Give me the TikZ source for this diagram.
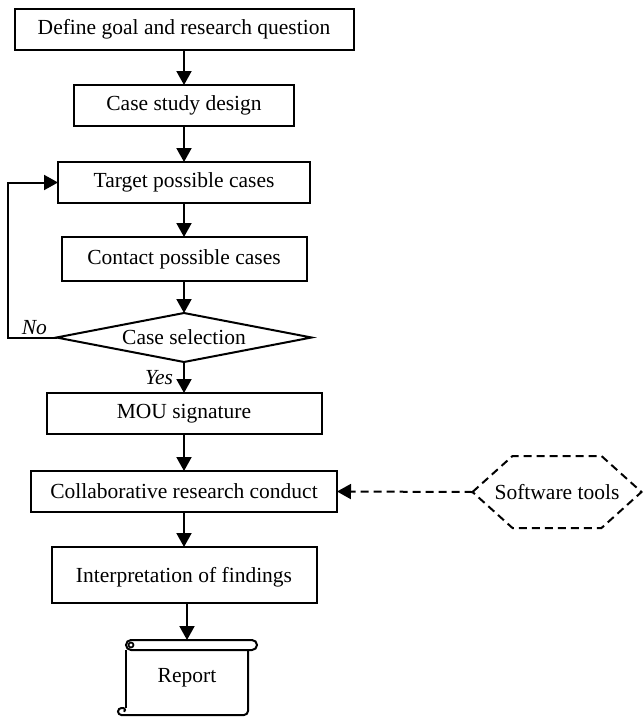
\documentclass[tikz,border=0pt]{standalone}
\usepackage{fontspec}
\setmainfont{Liberation Serif}
\usepackage{tikz}
\usetikzlibrary{arrows.meta, positioning, shapes, calc}

\begin{document}
\begin{tikzpicture}[x=1pt, y=1pt,
    font=\fontsize{21.5}{26}\selectfont,
    stagebox/.style={draw, line width=2pt, minimum height=41pt, inner sep=0pt, outer sep=0pt},
    flow/.style={line width=2pt, -{Triangle[length=14pt, width=15pt]}},
    dashflow/.style={flow, dash pattern=on 8pt off 5pt}]
    \useasboundingbox (0,0) rectangle (644,-717);
    % stages of the study, top to bottom
    \node[stagebox, minimum width=339pt] (goal)    at (184,-29.5)  {Define goal and research question};
    \node[stagebox, minimum width=220pt] (design)  at (184,-105.5) {Case study design};
    \node[stagebox, minimum width=252pt] (target)  at (184,-182.5) {Target possible cases};
    \node[stagebox, minimum width=245pt, minimum height=44pt] (contact) at (184,-259) {Contact possible cases};
    \node[draw, diamond, aspect=5.2, line width=2pt, inner sep=0pt, outer sep=0pt,
          minimum width=255pt, minimum height=49pt] (select) at (184,-337.5) {Case selection};
    \node[stagebox, minimum width=275pt] (mou)     at (184,-413.5) {MOU signature};
    \node[stagebox, minimum width=306pt] (collab)  at (184,-491.5) {Collaborative research conduct};
    \node[stagebox, minimum width=265pt, minimum height=56pt, text depth=0pt] (interp) at (184,-575) {Interpretation of findings};
    \node[minimum width=122pt, minimum height=75pt, inner sep=0pt, outer sep=0pt] (report) at (187,-677.5) {Report};
    % side input
    \node[minimum width=169pt, minimum height=72pt, inner sep=0pt, outer sep=0pt] (tools) at (557,-492) {Software tools};
    \draw[line width=2pt, dash pattern=on 8pt off 5pt]
          (tools.west) -- ($(tools.north west)+(40,0)$) -- ($(tools.north east)+(-40,0)$)
          -- (tools.east) -- ($(tools.south east)+(-40,0)$) -- ($(tools.south west)+(40,0)$) -- cycle;
    % report scroll
    \draw[line width=2pt, rounded corners=5pt] (126,-640) rectangle (257,-650);
    \draw[line width=1.7pt] (131,-645) circle[radius=2.5];
    \draw[line width=2pt] (126,-650) -- (126,-708);
    \draw[line width=2pt, rounded corners=4pt] (248,-650) -- (248,-715) -- (121,-715);
    \draw[line width=2pt] (121.5,-715) arc[start angle=270, end angle=90, radius=3.5]
          -- (123,-708) arc[start angle=90, end angle=-60, radius=2];
    % connectors
    \draw[flow] (goal) -- (design);
    \draw[flow] (design) -- (target);
    \draw[flow] (target) -- (contact);
    \draw[flow] (contact) -- (select);
    \draw[flow] (select) -- node[left, inner sep=10pt] {\textit{Yes}} (mou);
    \draw[flow] (mou) -- (collab);
    \draw[flow] (collab) -- (interp);
    \draw[flow] (interp.south -| report.north) -- (report.north);
    \draw[flow] (select.west) -- ++(-49,0) node[pos=0.45, above, inner sep=2pt] {\textit{No}}
          |- (target.west);
    \draw[dashflow] (tools.west) -- (collab.east);
\end{tikzpicture}
\end{document}
